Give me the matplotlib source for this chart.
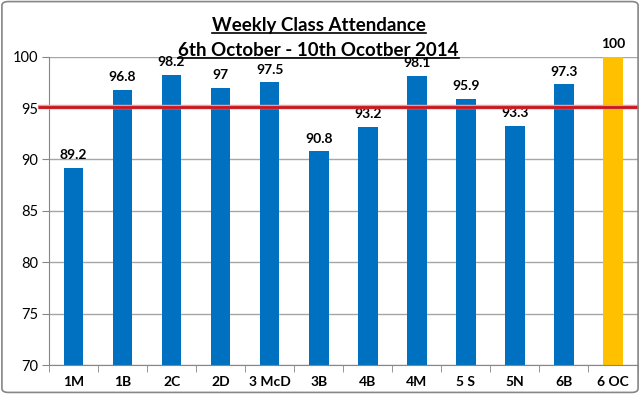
import matplotlib
matplotlib.use("Agg")
import matplotlib.pyplot as plt
from matplotlib.lines import Line2D
from matplotlib.patches import FancyBboxPatch

plt.rcParams['font.family'] = ['Lato', 'DejaVu Sans']

classes = ['1M', '1B', '2C', '2D', '3 McD', '3B', '4B', '4M', '5 S', '5N', '6B', '6 OC']
attendance = [89.2, 96.8, 98.2, 97, 97.5, 90.8, 93.2, 98.1, 95.9, 93.3, 97.3, 100]
bar_colors = ['#0070C0'] * 11 + ['#FFC000']
target = 95.15
title_lines = ['Weekly Class Attendance', '6th October - 10th Ocotber 2014']

fig = plt.figure(figsize=(6.4, 3.94), dpi=100)
ax = fig.add_axes([49/640, 29/394, (637.5-49)/640, (365-56.7)/394])

x = range(len(classes))
ax.bar(x, [v - 70 for v in attendance], bottom=70, width=0.4, color=bar_colors, zorder=2)
for i, v in enumerate(attendance):
    ax.text(i, v + 0.85, f'{v:g}', ha='center', va='baseline', fontsize=10, fontweight='bold')

ax.set_ylim(70, 100)
ax.set_xlim(-0.5, len(classes) - 0.5)
ax.set_yticks(range(70, 101, 5))
ax.yaxis.grid(True, color='#A6A6A6', linewidth=1, zorder=0)
ax.set_axisbelow(True)
ax.tick_params(axis='y', length=5, color='#868686', labelsize=10.5, pad=3)
ax.set_xticks([i + 0.5 for i in range(-1, len(classes))], minor=True)
ax.set_xticks(list(x))
ax.set_xticklabels(classes, fontweight='bold', fontsize=10)
ax.tick_params(axis='x', which='major', length=0, pad=8)
ax.tick_params(axis='x', which='minor', length=5, color='#868686')
for s in ['top', 'right']:
    ax.spines[s].set_visible(False)
for s in ['left', 'bottom']:
    ax.spines[s].set_color('#868686')

# target line, runs a little past the y axis
ax.plot([-0.72, len(classes) - 0.5], [target, target], color='#EE9A9A', linewidth=3.2,
        clip_on=False, zorder=3, solid_capstyle='butt')
ax.plot([-0.72, len(classes) - 0.5], [target, target], color='#C8161D', linewidth=2,
        clip_on=False, zorder=4, solid_capstyle='butt')

# titles with underline
t1 = fig.text(0.498, 1 - 30.7/394, title_lines[0], ha='center', va='baseline', fontsize=13.5, fontweight='bold')
t2 = fig.text(0.498, 1 - 55.7/394, title_lines[1], ha='center', va='baseline', fontsize=13.5, fontweight='bold')
fig.canvas.draw()
r = fig.canvas.get_renderer()
for t, base in ((t1, 30.7), (t2, 55.7)):
    bb = t.get_window_extent(r).transformed(fig.transFigure.inverted())
    yy = 1 - (base + 1.8) / 394
    fig.add_artist(Line2D([bb.x0, bb.x1], [yy, yy], color='black',
                          linewidth=1.2, transform=fig.transFigure))

fig.add_artist(FancyBboxPatch((0.003, 0.004), 0.994, 0.992, boxstyle='round,pad=0,rounding_size=0.01',
                              transform=fig.transFigure, fill=False, edgecolor='#868686', linewidth=1.2))

fig.savefig('out.png', dpi=100)
